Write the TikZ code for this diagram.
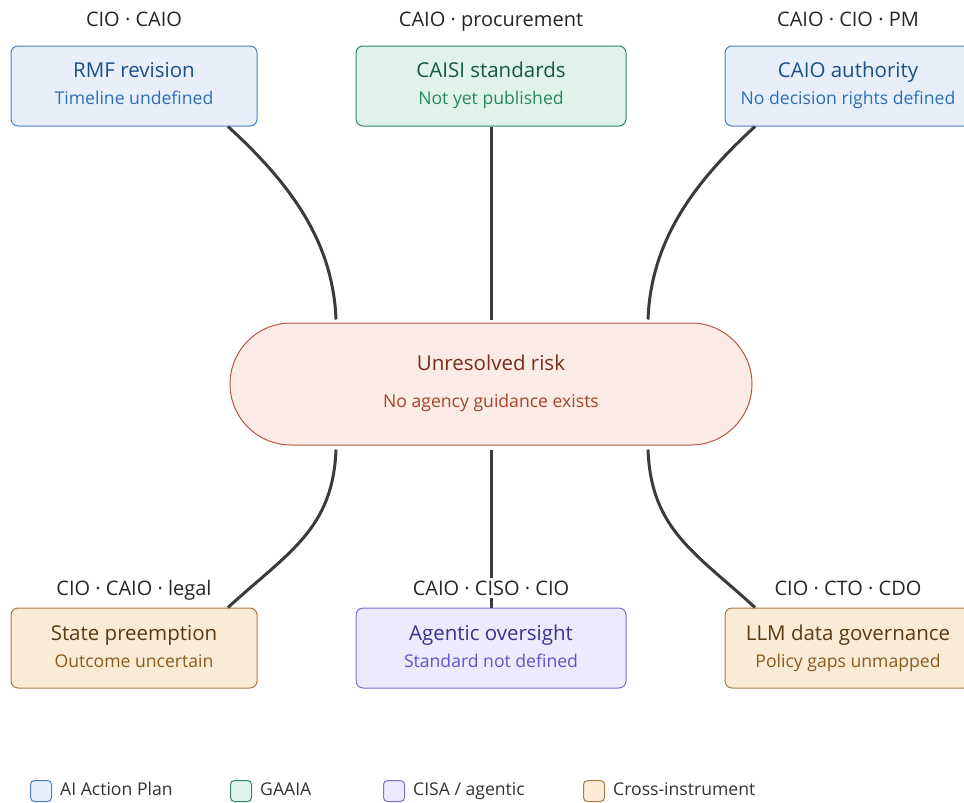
\documentclass[tikz,border=0pt]{standalone}
\usepackage{fontspec}
\setmainfont{Open Sans}
\usetikzlibrary{calc,positioning}
\definecolor{planfill}{HTML}{E7F0FA}
\definecolor{plandraw}{HTML}{4D80C4}
\definecolor{planhead}{HTML}{1D4F85}
\definecolor{plansub}{HTML}{2F6DB5}
\definecolor{gaaiafill}{HTML}{E0F3EB}
\definecolor{gaaiadraw}{HTML}{2F8A66}
\definecolor{gaaiahead}{HTML}{17563F}
\definecolor{gaaiasub}{HTML}{2A8660}
\definecolor{cisafill}{HTML}{ECEAFC}
\definecolor{cisadraw}{HTML}{7A6FDB}
\definecolor{cisahead}{HTML}{3B3290}
\definecolor{cisasub}{HTML}{5F53CC}
\definecolor{crossfill}{HTML}{FAEBD7}
\definecolor{crossdraw}{HTML}{AA7B45}
\definecolor{crosshead}{HTML}{5A3A12}
\definecolor{crosssub}{HTML}{8C5A1C}
\definecolor{riskfill}{HTML}{FAEBE5}
\definecolor{riskdraw}{HTML}{B4573E}
\definecolor{riskhead}{HTML}{7A2C1A}
\definecolor{risksub}{HTML}{A5432A}
\definecolor{linkgray}{HTML}{3B3B3B}
\begin{document}
\begin{tikzpicture}[x=1pt,y=-1pt,
  gapbox/.style={rounded corners=7pt,line width=1pt,minimum width=246pt,minimum height=80pt,inner sep=0pt},
  widebox/.style={gapbox,minimum width=270pt},
  head/.style={font=\fontsize{20.5}{24}\selectfont,anchor=base,inner sep=0pt},
  sub/.style={font=\fontsize{17.6}{20}\selectfont,anchor=base,inner sep=0pt},
  owner/.style={font=\fontsize{20}{24}\selectfont,text=black!85,anchor=base,fill=white,inner sep=3pt},
  link/.style={draw=linkgray,line width=3pt},
  key/.style={draw,rounded corners=4pt,line width=1pt,minimum size=21pt,inner sep=0pt},
  keytext/.style={font=\fontsize{17.6}{20}\selectfont,text=black!80,inner sep=0pt,text height=13pt,text depth=4pt,right=8pt of #1}]
\useasboundingbox (0,0) rectangle (964,803);
\clip (0,0) rectangle (964,803);

\node[gapbox,draw=plandraw,fill=planfill] (rmf) at (134,86) {};
\node[head,text=planhead] (rmfhead) at (134,77) {RMF revision};
\node[sub,text=plansub] (rmfsub) at (134,104) {Timeline undefined};

\node[widebox,draw=gaaiadraw,fill=gaaiafill] (caisi) at (491,86) {};
\node[head,text=gaaiahead] (caisihead) at (491,77) {CAISI standards};
\node[sub,text=gaaiasub] (caisisub) at (491,104) {Not yet published};

\node[gapbox,draw=plandraw,fill=planfill] (caio) at (848,86) {};
\node[head,text=planhead] (caiohead) at (848,77) {CAIO authority};
\node[sub,text=plansub] (caiosub) at (848,104) {No decision rights defined};

\node[draw=riskdraw,fill=riskfill,line width=1pt,rounded corners=61pt,minimum width=522pt,minimum height=122pt] (risk) at (491,384) {};
\node[head,text=riskhead] (riskhead) at (491,370) {Unresolved risk};
\node[sub,text=risksub] (risksub) at (491,407) {No agency guidance exists};

\node[gapbox,draw=crossdraw,fill=crossfill] (preempt) at (134,648) {};
\node[head,text=crosshead] (preempthead) at (134,640) {State preemption};
\node[sub,text=crosssub] (preemptsub) at (134,667) {Outcome uncertain};

\node[widebox,draw=cisadraw,fill=cisafill] (agentic) at (491,648) {};
\node[head,text=cisahead] (agentichead) at (491,640) {Agentic oversight};
\node[sub,text=cisasub] (agenticsub) at (491,667) {Standard not defined};

\node[gapbox,draw=crossdraw,fill=crossfill] (llm) at (848,648) {};
\node[head,text=crosshead] (llmhead) at (848,640) {LLM data governance};
\node[sub,text=crosssub] (llmsub) at (848,667) {Policy gaps unmapped};

\draw[link] ($(rmf.south)+(94,0)$) .. controls +(60,55) and +(-3,-80) .. ($(risk.north)+(-155,-3)$);
\draw[link] (caisi.south) -- ($(risk.north)+(0,-3)$);
\draw[link] ($(caio.south)+(-93,0)$) .. controls +(-60,55) and +(3,-80) .. ($(risk.north)+(157,-3)$);
\draw[link] ($(risk.south)+(-155,4)$) .. controls +(-3,80) and +(60,-55) .. ($(preempt.north)+(94,0)$);
\draw[link] ($(risk.south)+(0,4)$) -- (agentic.north);
\draw[link] ($(risk.south)+(157,4)$) .. controls +(3,80) and +(-60,-55) .. ($(llm.north)+(-93,0)$);

\node[owner] (rmfowner) at (134,27) {CIO · CAIO};
\node[owner] (caisiowner) at (491,27) {CAIO · procurement};
\node[owner] (caioowner) at (848,27) {CAIO · CIO · PM};
\node[owner] (preemptowner) at (134,595) {CIO · CAIO · legal};
\node[owner] (agenticowner) at (491,595) {CAIO · CISO · CIO};
\node[owner] (llmowner) at (848,595) {CIO · CTO · CDO};

\node[key,draw=plandraw,fill=planfill] (keyplan) at (41,791) {};
\node[keytext=keyplan] (keyplantext) {AI Action Plan};
\node[key,draw=gaaiadraw,fill=gaaiafill] (keygaaia) at (241,791) {};
\node[keytext=keygaaia] (keygaaiatext) {GAAIA};
\node[key,draw=cisadraw,fill=cisafill] (keycisa) at (394,791) {};
\node[keytext=keycisa] (keycisatext) {CISA / agentic};
\node[key,draw=crossdraw,fill=crossfill] (keycross) at (594,791) {};
\node[keytext=keycross] (keycrosstext) {Cross-instrument};
\end{tikzpicture}
\end{document}
